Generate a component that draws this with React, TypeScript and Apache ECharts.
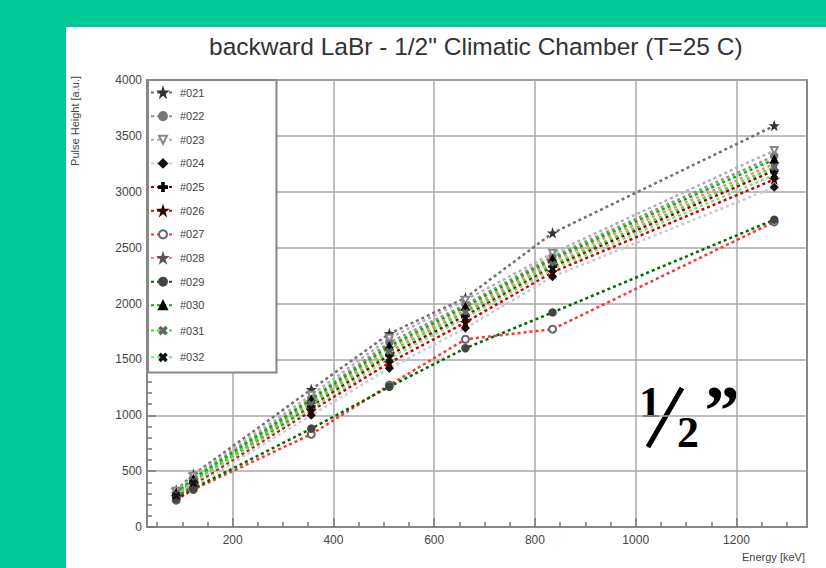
import React, { useEffect, useRef } from "react";
import * as echarts from "echarts";

// Energies of the calibration lines [keV]
const energies = [88, 122, 356, 511, 662, 835, 1275];

// Pulse heights [a.u.] per detector
const s021 = [330, 470, 1230, 1730, 2050, 2630, 3590];
const s022 = [310, 440, 1150, 1650, 1990, 2420, 3320];
const s023 = [320, 455, 1180, 1690, 2030, 2450, 3370];
const s024 = [255, 360, 1000, 1420, 1780, 2240, 3040];
const s025 = [285, 405, 1080, 1540, 1890, 2330, 3190];
const s026 = [270, 380, 1040, 1470, 1830, 2280, 3110];
const s027 = [240, 335, 830, 1270, 1680, 1770, 2730];
const s028 = [295, 420, 1120, 1600, 1940, 2380, 3250];
const s029 = [250, 345, 880, 1255, 1600, 1920, 2750];
const s030 = [305, 430, 1140, 1620, 1970, 2400, 3290];
const s031 = [290, 410, 1100, 1570, 1920, 2350, 3220];
const s032 = [280, 395, 1060, 1510, 1870, 2310, 3150];

const seriesNames = ["#021", "#022", "#023", "#024", "#025", "#026", "#027", "#028", "#029", "#030", "#031", "#032"];
const seriesValues = [s021, s022, s023, s024, s025, s026, s027, s028, s029, s030, s031, s032];

const xMajorTicks = [200, 400, 600, 800, 1000, 1200];
const xMinorTicks = [50, 100, 150, 250, 300, 350, 450, 500, 550, 650, 700, 750, 850, 900, 950, 1050, 1100, 1150, 1250, 1300];

const lineColors = ["#707070", "#909090", "#b0b0b0", "#cccccc", "#990000", "#cc0000", "#ff3333", "#ff8080", "#006600", "#00b400", "#33e633", "#77e677"];
const markerColors = ["#333", "#777", "#888", "#111", "#000", "#300", "#666", "#555", "#444", "#000", "#666", "#111"];

const CROSS = "path://M4 0h2v4h4v2h-4v4h-2v-4h-4v-2h4z";
const STAR = "path://M5 0L6.2 3.8L10 3.8L7 6.2L8 10L5 7.6L2 10L3 6.2L0 3.8L3.8 3.8Z";
const markerSymbols = [STAR, "circle", "emptyTriangle", "diamond", CROSS, STAR, "emptyCircle", STAR, "circle", "triangle", CROSS, CROSS];
const markerRotations = [0, 0, 180, 0, 0, 0, 0, 0, 0, 0, 45, 45];

const FONT = "'Liberation Sans', Arial, Helvetica, sans-serif";
const SERIF = "'Liberation Serif', 'Times New Roman', serif";

export default function App() {
  const ref = useRef<HTMLDivElement>(null);

  useEffect(() => {
    if (!ref.current) return;
    const chart = echarts.init(ref.current, undefined, { renderer: "svg" });
    const gridLine = { color: "#a8a8a8", width: 1.5 };
    const tickLine = { color: "#777", width: 1.5 };
    const plain = (v: number) => String(v);

    const series = seriesNames.map((name, i) => ({
      name,
      type: "line",
      xAxisIndex: 0,
      data: energies.map((e, j) => [e, seriesValues[i][j]]),
      symbol: markerSymbols[i],
      symbolRotate: markerRotations[i],
      symbolSize: 7,
      showSymbol: true,
      lineStyle: { color: lineColors[i], width: 2.5, type: [3, 3] },
      itemStyle: { color: markerColors[i], borderColor: markerColors[i], borderWidth: 1.5 },
      emphasis: { disabled: true },
      z: 2,
    }));

    chart.setOption({
      animation: false,
      backgroundColor: "transparent",
      title: {
        text: 'backward LaBr - 1/2" Climatic Chamber (T=25 C)',
        left: 204,
        top: 29,
        textStyle: { fontSize: 24.5, fontWeight: "normal", color: "#333", fontFamily: FONT },
      },
      grid: { left: 147, right: 19, top: 80, bottom: 41, show: true, borderColor: "#888", borderWidth: 2, backgroundColor: "transparent" },
      legend: {
        orient: "vertical",
        left: 148,
        top: 80,
        itemWidth: 24,
        itemHeight: 10,
        itemGap: 12.65,
        padding: [7, 72, 8, 2],
        backgroundColor: "#fff",
        borderColor: "#888",
        borderWidth: 2,
        textStyle: { fontSize: 11, lineHeight: 10, color: "#444", fontFamily: FONT },
        data: seriesNames,
      },
      xAxis: [
        {
          type: "value",
          min: 30,
          max: 1340,
          splitNumber: 7,
          position: "bottom",
          axisLine: { show: true, lineStyle: { color: "#888", width: 2 } },
          axisTick: { show: true, inside: true, length: 9, customValues: xMajorTicks, lineStyle: tickLine },
          axisLabel: { customValues: xMajorTicks, formatter: plain, fontSize: 12, color: "#444", margin: 7, fontFamily: FONT },
          splitLine: { show: true, lineStyle: gridLine },
        },
        {
          type: "value",
          min: 30,
          max: 1340,
          position: "bottom",
          axisLine: { show: false },
          axisTick: { show: true, inside: true, length: 5, customValues: xMinorTicks, lineStyle: tickLine },
          axisLabel: { show: false },
          splitLine: { show: false },
        },
      ],
      yAxis: {
        type: "value",
        min: 0,
        max: 4000,
        interval: 500,
        axisLine: { show: true, lineStyle: { color: "#888", width: 2 } },
        axisTick: { show: true, inside: true, length: 9, lineStyle: tickLine },
        minorTick: { show: true, splitNumber: 5, length: 5, lineStyle: tickLine },
        axisLabel: { formatter: plain, fontSize: 12, color: "#444", margin: 5, fontFamily: FONT },
        splitLine: { show: true, lineStyle: gridLine },
      },
      graphic: [
        {
          type: "text",
          x: 75,
          y: 76,
          rotation: Math.PI / 2,
          style: { text: "Pulse Height [a.u.]", fontSize: 11, fill: "#444", align: "right", verticalAlign: "middle", fontFamily: FONT },
        },
        {
          type: "text",
          x: 805,
          y: 557,
          style: { text: "Energy [keV]", fontSize: 11, fill: "#444", align: "right", verticalAlign: "middle", fontFamily: FONT },
        },
        {
          type: "text",
          x: 650,
          y: 402,
          style: { text: "1", fontSize: 44, fontWeight: "bold", fill: "#000", align: "center", verticalAlign: "middle", fontFamily: SERIF },
        },
        {
          type: "line",
          shape: { x1: 648, y1: 447, x2: 682, y2: 388 },
          style: { stroke: "#000", lineWidth: 5 },
        },
        {
          type: "text",
          x: 688,
          y: 432,
          style: { text: "2", fontSize: 44, fontWeight: "bold", fill: "#000", align: "center", verticalAlign: "middle", fontFamily: SERIF },
        },
        {
          type: "text",
          x: 722,
          y: 410,
          style: { text: "\u201D", fontSize: 70, fontWeight: "bold", fill: "#000", align: "center", verticalAlign: "middle", fontFamily: SERIF },
        },
      ],
      series,
    });
    return () => chart.dispose();
  }, []);

  return (
    <div style={{ position: "fixed", left: 0, top: 0, width: 826, height: 568, background: "#00c896" }}>
      <div style={{ position: "absolute", left: 66, top: 27, width: 760, height: 541, background: "#fff" }} />
      <div ref={ref} style={{ position: "absolute", left: 0, top: 0, width: 826, height: 568 }} />
    </div>
  );
}
